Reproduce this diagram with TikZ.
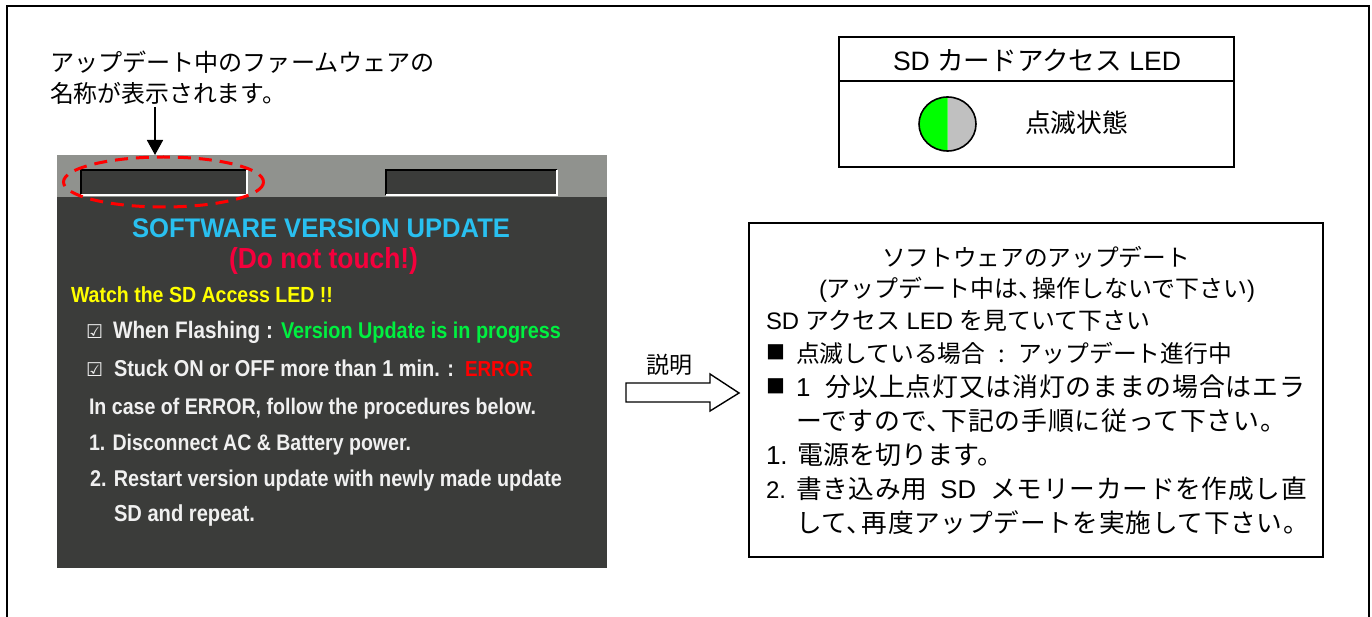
\documentclass[tikz,border=0pt]{standalone}
\usepackage{fontspec}
\usepackage{graphicx}
\setmainfont{Liberation Sans}
\newfontfamily\jp{Noto Sans CJK JP}
\newfontfamily\jpw[LetterSpace=3]{Noto Sans CJK JP}
\newfontfamily\sym{DejaVu Sans}
\usetikzlibrary{arrows.meta}
\definecolor{scrdark}{HTML}{3B3C3A}
\definecolor{scrgray}{HTML}{90928E}
\definecolor{scrblue}{HTML}{29C0F0}
\definecolor{scrpink}{HTML}{F5003C}
\definecolor{scryellow}{HTML}{FFFF00}
\definecolor{scrgreen}{HTML}{00F040}
\definecolor{scrred}{HTML}{FF0000}
\definecolor{scrwhite}{HTML}{F0F0F0}
\definecolor{ledgreen}{HTML}{00FF00}
\definecolor{ledgray}{HTML}{C0C0C0}
\newcommand{\fitw}[2]{\resizebox{#1pt}{!}{\strut #2}}
\newcommand{\fitv}[3]{\scalebox{1}[#2]{\resizebox{#1pt}{!}{#3}}}
\newcommand{\cm}{\kern-.42em}
\tikzset{
  x=1pt,y=-1pt,
  txt/.style={anchor=base west,inner sep=0pt,outer sep=0pt,font=\fontsize{24}{24}\selectfont},
  scr/.style={anchor=base west,inner sep=0pt,outer sep=0pt,font=\bfseries\fontsize{18}{18}\selectfont},
  frameline/.style={draw=black,line width=2pt},
  fieldbox/.style={fill=scrdark},
  marker/.style={anchor=base west,inner sep=0pt,outer sep=0pt,font=\jp\fontsize{19}{19}\selectfont},
}
\begin{document}
\begin{tikzpicture}
\useasboundingbox (0,0) rectangle (1372,617);
% outer frame
\draw[frameline] (6.5,617) -- (6.5,6.5) -- (1369,6.5) -- (1369,617);
% callout text
\node[txt] (lab1) at (50,72) {\fitw{385}{\jp アップデート中のファームウェアの}};
\node[txt] (lab2) at (50,103) {\fitw{236}{\jp 名称が表示されます。}};
% screen
\fill[scrdark] (57,155) rectangle (607,568);
\fill[scrgray] (57,155) rectangle (607,197.5);
\coordinate (scrtop) at (155,155);
\coordinate (labfoot) at (155,107);
\draw[line width=1.8pt,-{Triangle[length=15pt,width=16pt]}] (labfoot) -- (scrtop);
\foreach \a/\b in {81/247,386/557}{
  \fill[fieldbox] (\a,170) rectangle (\b,195);
  \draw[black,line width=1.2pt] (\a,195) -- (\a,170) -- (\b,170);
  \draw[white,line width=1.2pt] (\a,195) -- (\b,195) -- (\b,170);
}
\draw[red,line width=3pt,dash pattern=on 13pt off 8pt] (163.5,182) ellipse [x radius=100,y radius=25];
\node[scr,text=scrblue] (t1) at (132,238) {\fitv{378}{1.05}{SOFTWARE VERSION UPDATE}};
\node[scr,text=scrpink] (t2) at (229,268.5) {\fitv{189}{1.1}{(Do not touch!)}};
\node[scr,text=scryellow] (t3) at (71,302) {\fitv{262}{1.12}{Watch the SD Access LED !!}};
\node[scr,text=scrwhite] (c1) at (86,338) {\fontsize{19}{19}\selectfont\mdseries\sym ☑};
\node[scr,text=scrwhite] (t4) at (113,338) {\fitv{160}{1.15}{When Flashing :}};
\node[scr,text=scrgreen] (t5) at (281,338) {\fitv{280}{1.15}{Version Update is in progress}};
\node[scr,text=scrwhite] (c2) at (86,376) {\fontsize{19}{19}\selectfont\mdseries\sym ☑};
\node[scr,text=scrwhite] (t6) at (114,376) {\fitv{340}{1.15}{Stuck ON or OFF more than 1 min. :}};
\node[scr,text=scrred] (t7) at (465,376) {\fitv{68}{1.15}{ERROR}};
\node[scr,text=scrwhite] (t8) at (89,414) {\fitv{447}{1.15}{In case of ERROR, follow the procedures below.}};
\node[scr,text=scrwhite] (t9) at (89,450) {\fitv{322}{1.15}{1. Disconnect AC \& Battery power.}};
\node[scr,text=scrwhite] (t10) at (90,486) {\fitv{472}{1.15}{2. Restart version update with newly made update}};
\node[scr,text=scrwhite] (t11) at (114,521) {\fitv{141}{1.15}{SD and repeat.}};
% LED panel
\draw[black,line width=1.6pt] (839,37) rectangle (1234,167);
\draw[black,line width=1.6pt] (839,81) -- (1234,81);
\node[txt] (ledt) at (893,71) {\fitw{288}{SD {\jp カードアクセス} LED}};
\begin{scope}
\clip (947.5,90) rectangle (990,160);
\fill[ledgray] (947.5,124) ellipse [x radius=28.5,y radius=27];
\end{scope}
\begin{scope}
\clip (910,90) rectangle (947.5,160);
\fill[ledgreen] (947.5,124) ellipse [x radius=28.5,y radius=27];
\end{scope}
\draw[black,line width=1.6pt] (947.5,124) ellipse [x radius=28.5,y radius=27];
\node[txt] (ledl) at (1025,133) {\fitw{103}{\jp 点滅状態}};
% hollow arrow
\node[txt] (expl) at (646,373) {\fitw{46}{\jp 説明}};
\draw[black,line width=1.4pt,fill=white] (626,383) -- (710,383) -- (710,374) -- (739,393) -- (710,411) -- (710,402) -- (626,402) -- cycle;
% text box
\draw[black,line width=1.4pt] (749,223) rectangle (1323,557);
\node[txt] (b1) at (882,267) {\fitw{308}{\jp ソフトウェアのアップデート}};
\node[txt] (b2) at (819,298) {\fitw{436}{({\jp アップデート中は、\cm 操作しないで下さい})}};
\node[txt] (b3) at (766,330) {\fitw{384}{SD {\jp アクセス} LED {\jp を見ていて下さい}}};
\node[marker] (m4) at (766,359) {■};
\node[txt] (b4) at (796,362) {\fitw{436}{\jp 点滅している場合\hspace{.55em}:\hspace{.55em}アップデート進行中}};
\node[marker] (m5) at (766,393) {■};
\node[txt] (b5) at (796,396.5) {\fitw{509}{1\hspace{.6em}{\jpw 分以上点灯又は消灯のままの場合はエラ}}};
\node[txt] (b6) at (796,430.5) {\fitw{490}{\jpw ーですので、\cm 下記の手順に従って下さい。}};
\node[txt] (b7) at (766,464) {\fitw{237}{1. {\jp 電源を切ります。}}};
\node[txt] (b8a) at (766,498) {2.};
\node[txt] (b8) at (796,498.5) {\fitw{511}{{\jpw 書き込み用}\hspace{.5em}SD\hspace{.55em}{\jpw メモリーカードを作成し直}}};
\node[txt] (b9) at (796,532.5) {\fitw{513}{\jpw して、\cm 再度アップデートを実施して下さい。}};
\end{tikzpicture}
\end{document}
